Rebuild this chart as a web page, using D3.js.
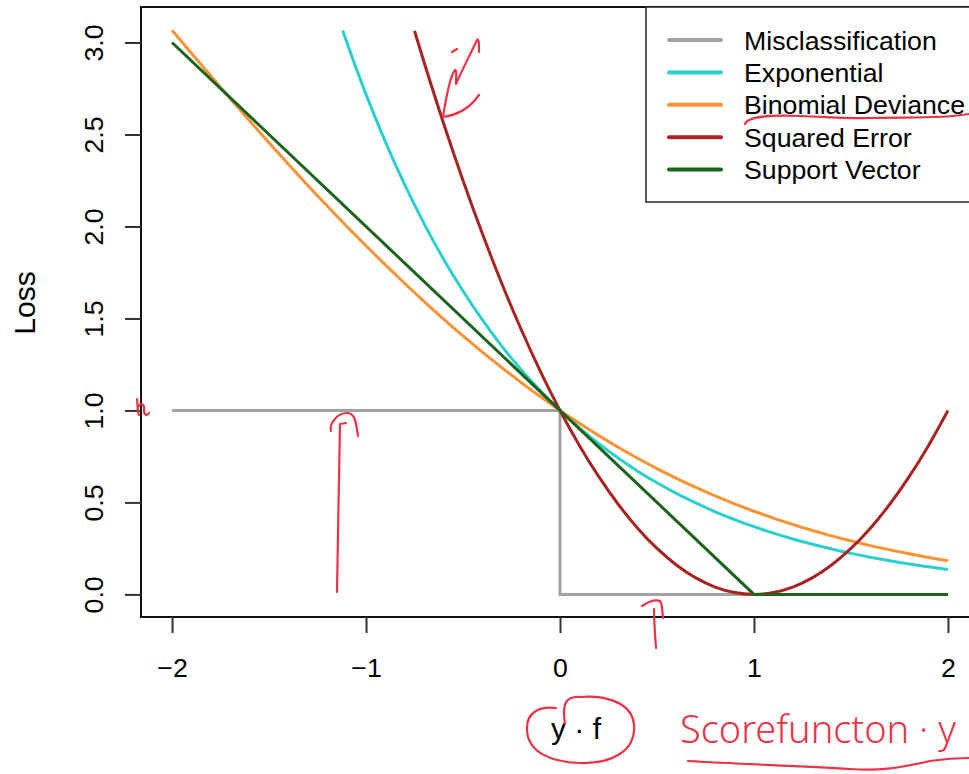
<!DOCTYPE html>
<html>
<head>
<meta charset="utf-8">
<script src="https://cdn.jsdelivr.net/npm/d3@7"></script>
<style>
  html, body { margin: 0; padding: 0; background: #ffffff; }
  svg { display: block; }
  text { font-family: "Liberation Sans", Arial, Helvetica, sans-serif; }
</style>
</head>
<body>
<svg id="chart" width="969" height="774"></svg>
<script>
// Margin loss functions plotted against the margin y·f
const gridX = [-2.0,-1.9,-1.8,-1.7,-1.6,-1.5,-1.4,-1.3,-1.2,-1.1,-1.0,-0.9,-0.8,-0.7,-0.6,-0.5,-0.4,-0.3,-0.2,-0.1,
  0.0,0.1,0.2,0.3,0.4,0.5,0.6,0.7,0.8,0.9,1.0,1.1,1.2,1.3,1.4,1.5,1.6,1.7,1.8,1.9,2.0];

const misclassX = [-2, 0, 0, 2];
const misclassY = [1, 1, 0, 0];

const exponentialX = [-1.12,-1.1,-1.0,-0.9,-0.8,-0.7,-0.6,-0.5,-0.4,-0.3,-0.2,-0.1,
  0.0,0.1,0.2,0.3,0.4,0.5,0.6,0.7,0.8,0.9,1.0,1.1,1.2,1.3,1.4,1.5,1.6,1.7,1.8,1.9,2.0];
const exponentialY = [3.065,3.004,2.718,2.460,2.226,2.014,1.822,1.649,1.492,1.350,1.221,1.105,
  1.000,0.905,0.819,0.741,0.670,0.607,0.549,0.497,0.449,0.407,0.368,0.333,0.301,0.273,0.247,0.223,0.202,0.183,0.165,0.150,0.135];

const binomialY = [3.067,2.942,2.818,2.695,2.574,2.455,2.338,2.223,2.111,2.001,1.895,1.791,1.690,1.592,1.497,1.405,1.317,1.233,1.151,1.074,
  1.000,0.930,0.863,0.800,0.740,0.684,0.631,0.582,0.535,0.492,0.452,0.415,0.380,0.348,0.318,0.291,0.265,0.242,0.221,0.201,0.183];

const squaredX = [-0.75,-0.7,-0.6,-0.5,-0.4,-0.3,-0.2,-0.1,
  0.0,0.1,0.2,0.3,0.4,0.5,0.6,0.7,0.8,0.9,1.0,1.1,1.2,1.3,1.4,1.5,1.6,1.7,1.8,1.9,2.0];
const squaredY = [3.063,2.89,2.56,2.25,1.96,1.69,1.44,1.21,
  1.00,0.81,0.64,0.49,0.36,0.25,0.16,0.09,0.04,0.01,0.00,0.01,0.04,0.09,0.16,0.25,0.36,0.49,0.64,0.81,1.00];

const svmX = [-2, 1, 2];
const svmY = [3, 0, 0];

const seriesNames = ["Misclassification", "Exponential", "Binomial Deviance", "Squared Error", "Support Vector"];
const seriesColors = ["#a3a3a3", "#2ccfd0", "#fb9234", "#aa2323", "#1b641b"];

const xTicks = [-2, -1, 0, 1, 2];
const yTicks = [0, 0.5, 1, 1.5, 2, 2.5, 3];

const svg = d3.select("#chart");
const fontSize = 26.7;

// plotting region (box is open on the right, running past the page edge)
const plotLeft = 141, plotRight = 979, plotTop = 7, plotBottom = 617;
const x = d3.scaleLinear().domain([-2.16, 2.16]).range([plotLeft, plotRight]);
const y = d3.scaleLinear().domain([-0.1228, 3.193]).range([plotBottom, plotTop]);

const zip = (xs, ys) => xs.map((v, i) => [v, ys[i]]);
const series = [
  { pts: zip(misclassX, misclassY), curve: d3.curveLinear },
  { pts: zip(exponentialX, exponentialY), curve: d3.curveMonotoneX },
  { pts: zip(gridX, binomialY), curve: d3.curveMonotoneX },
  { pts: zip(squaredX, squaredY), curve: d3.curveMonotoneX },
  { pts: zip(svmX, svmY), curve: d3.curveLinear }
];

series.forEach((s, i) => {
  const line = d3.line().x(d => x(d[0])).y(d => y(d[1])).curve(s.curve);
  svg.append("path")
    .datum(s.pts)
    .attr("d", line)
    .attr("fill", "none")
    .attr("stroke", seriesColors[i])
    .attr("stroke-width", 3)
    .attr("stroke-linejoin", "miter");
});

// frame
svg.append("path")
  .attr("d", `M${plotRight + 20},${plotTop}H${plotLeft}V${plotBottom}H${plotRight + 20}`)
  .attr("fill", "none").attr("stroke", "#111").attr("stroke-width", 2);

const fmt = v => (v < 0 ? "\u2212" : "") + Math.abs(v);

// x axis
const gx = svg.append("g").attr("transform", `translate(0,${plotBottom})`)
  .call(d3.axisBottom(x).tickValues(xTicks).tickSize(16).tickFormat(fmt));
gx.select(".domain").remove();
gx.selectAll(".tick line").attr("stroke", "#333").attr("stroke-width", 2);
gx.selectAll(".tick text").attr("y", 60).attr("dy", 0)
  .style("font-size", fontSize + "px").style("fill", "#000");

// y axis, rotated labels
const gy = svg.append("g").attr("transform", `translate(${plotLeft},0)`)
  .call(d3.axisLeft(y).tickValues(yTicks).tickSize(16).tickFormat(d3.format(".1f")));
gy.select(".domain").remove();
gy.selectAll(".tick line").attr("stroke", "#333").attr("stroke-width", 2);
gy.selectAll(".tick text")
  .attr("x", 0).attr("dy", 0)
  .attr("transform", "translate(-38,0) rotate(-90)")
  .attr("text-anchor", "middle")
  .style("font-size", fontSize + "px").style("fill", "#000");

// axis titles
svg.append("text").attr("transform", "translate(35,303) rotate(-90)")
  .attr("text-anchor", "middle").style("font-size", "30px").style("fill", "#000").text("Loss");
svg.append("text").attr("x", 576).attr("y", 739)
  .attr("text-anchor", "middle").style("font-size", "30px").style("fill", "#000").text("y \u00B7 f");

// legend
const legend = svg.append("g");
legend.append("rect").attr("x", 646).attr("y", plotTop).attr("width", 380).attr("height", 195)
  .attr("fill", "#fff").attr("stroke", "#222").attr("stroke-width", 1.5);
const rowY = d3.scalePoint().domain(seriesNames).range([40, 169.5]);
seriesNames.forEach((name, i) => {
  legend.append("line")
    .attr("x1", 669).attr("x2", 721).attr("y1", rowY(name)).attr("y2", rowY(name))
    .attr("stroke", seriesColors[i]).attr("stroke-width", 4).attr("stroke-linecap", "round");
  legend.append("text").attr("x", 744).attr("y", rowY(name) + 9.5)
    .style("font-size", fontSize + "px").style("fill", "#000").text(name);
});

// red pen notes
const ink = "#ec3247";
const notes = svg.append("g").attr("fill", "none").attr("stroke", ink)
  .attr("stroke-width", 2.2).attr("stroke-linecap", "round").attr("stroke-linejoin", "round");
[
  // squiggle at 1.0 on the y axis
  "M137,399 C138,405 137,411 139,415 M138,407 C141,402 145,404 144,411 C144,415 147,416 149,413",
  // arrow under the 1.0 level
  "M337,592 C338,540 339,470 340,424 M331,431 C329,424 337,413 347,413 C356,413 356,425 358,436 M340,424 L346,423",
  // arrow under the zero level
  "M656,648 C655,635 654,620 654,609 M642,606 C648,602 655,599 660,601 C663,605 662,612 663,618",
  // mark beside the squared error curve
  "M443,117 C446,98 451,75 455,70 C457,69 456,78 456,84 M456,84 C462,70 470,55 477,40 C479,38 479,45 479,52 M443,117 C458,115 470,108 479,95 M452,52 L457,49",
  // underline beneath Binomial Deviance
  "M745,124 C748,116 770,115 800,116 C830,117 840,119 870,118 C910,117 940,119 969,114",
  // loop round the axis title
  "M565,724 C562,705 565,696 580,697 C600,695 632,700 634,725 C636,752 610,764 580,763 C550,762 528,752 527,730 C526,712 540,706 556,708",
  // underline beneath the note
  "M688,761 C740,764 800,766 850,769 C880,771 900,768 930,761 C950,758 960,758 969,758"
].forEach(d => notes.append("path").attr("d", d));

svg.append("text").attr("x", 680).attr("y", 743)
  .attr("textLength", 276).attr("lengthAdjust", "spacingAndGlyphs")
  .style("font-family", "'Noto Sans', sans-serif").style("font-weight", 300)
  .style("font-size", "38px").style("fill", ink)
  .text("Scorefuncton \u00B7 y");
</script>
</body>
</html>
